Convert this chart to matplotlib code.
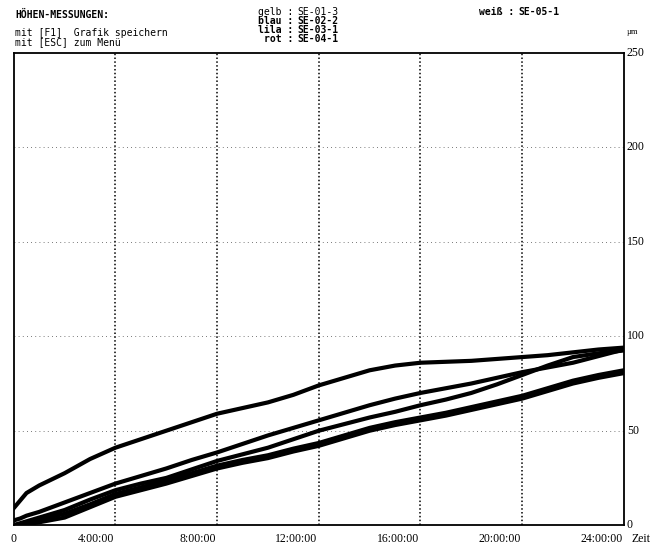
import matplotlib.pyplot as plt

# Stunden seit Messbeginn
hours = [0, 0.25, 0.5, 1, 2, 3, 4, 5, 6, 7, 8, 9, 10, 11, 12, 13, 14, 15, 16,
         17, 18, 19, 20, 21, 22, 23, 24]

# Höhe in µm
curve_a = [9, 13, 17, 21, 27.5, 35, 41, 45.5, 50, 54.5, 59, 62, 65, 69, 74,
           78, 82, 84.5, 86, 86.5, 87, 88, 89, 90, 91.5, 93, 94]
curve_b = [2.5, 3.5, 5, 7, 12, 17, 22, 26, 30, 34.5, 38.5, 43, 47.5, 51.5,
           55.5, 59.5, 63.5, 67, 70, 72.5, 75, 78, 81, 83.5, 86, 89.5, 93]
curve_c = [0, 1, 2, 4, 8, 13.5, 18.5, 22, 25, 29.5, 34, 37.5, 41, 45.5, 50,
           53.5, 57, 60, 63.5, 66.5, 70, 74.5, 79.5, 84.5, 89, 91, 92.5]
curve_d = [0, 0, 0.5, 1.5, 4, 9.5, 15, 18.5, 22, 26, 30, 33, 35.5, 39, 42,
           46, 50, 53, 55.5, 58, 61, 64, 67, 71, 75, 78, 80.5]
curve_e = [0, 0.5, 1.5, 3, 6, 11, 16.5, 20, 23.5, 27.5, 31.5, 34.5, 37, 40.5,
           43.5, 47.5, 51.5, 54.5, 57, 59.5, 62.5, 65.5, 68.5, 72.5, 76.5,
           79.5, 82]

series = [curve_a, curve_b, curve_c, curve_d, curve_e]

x_ticks = [0, 4, 8, 12, 16, 20, 24]
x_labels = ["0", "4:00:00", "8:00:00", "12:00:00", "16:00:00", "20:00:00", "24:00:00"]
y_ticks = [0, 50, 100, 150, 200, 250]

legend_names = ["gelb", "blau", "lila", "rot"]
legend_ids = ["SE-01-3", "SE-02-2", "SE-03-1", "SE-04-1"]

fig = plt.figure(figsize=(6.56, 5.47), dpi=100)
ax = fig.add_axes([0.021, 0.040, 0.930, 0.863])

for vals in series:
    ax.plot(hours, vals, color="black", lw=3.0, solid_joinstyle="round")

ax.set_xlim(0, 24)
ax.set_ylim(0, 250)

# Gitter: senkrecht dicht gepunktet, waagerecht locker
for t in x_ticks[1:-1]:
    ax.axvline(t, color="black", lw=1.1, ls=(0, (1, 1.5)))
for v in y_ticks[1:-1]:
    ax.axhline(v, color="black", lw=0.6, ls=(0, (1, 4)), alpha=0.7)

ax.set_xticks([])
ax.set_yticks([])
for s in ax.spines.values():
    s.set_linewidth(1.3)

serif = "Liberation Serif"
for t, lab in zip(x_ticks, x_labels):
    if t == 0:
        ax.text(t, -4, lab, ha="center", va="top", fontsize=8.5, family=serif)
    else:
        ax.text(t - 0.05, -4, lab, ha="right", va="top", fontsize=8.5, family=serif)
ax.text(24.3, -4, "Zeit", ha="left", va="top", fontsize=8.5, family=serif, clip_on=False)

for v in y_ticks:
    ax.text(24.12, v, str(v), ha="left", va="center", fontsize=8.5, family=serif)
ax.text(24.12, 259, "µm", ha="left", va="bottom", fontsize=6, family=serif)

# Kopfzeile im DOS-Stil
mono = "DejaVu Sans Mono"
fig.text(15 / 656, 1 - 15 / 547, "HÖHEN-MESSUNGEN:", fontsize=7, family=mono,
         weight="bold", va="center")
fig.text(15 / 656, 1 - 33 / 547, "mit [F1]  Grafik speichern", fontsize=7,
         family=mono, va="center")
fig.text(15 / 656, 1 - 42 / 547, "mit [ESC] zum Menü", fontsize=7,
         family=mono, va="center")

for i, (name, sid) in enumerate(zip(legend_names, legend_ids)):
    y = 1 - (12 + 9 * i) / 547
    w = "normal" if i == 0 else "bold"
    fig.text(293 / 656, y, name + " :", fontsize=7, family=mono, weight=w,
             ha="right", va="center")
    fig.text(297 / 656, y, sid, fontsize=7, family=mono, weight=w,
             ha="left", va="center")

fig.text(514 / 656, 1 - 12 / 547, "weiß :", fontsize=7, family=mono,
         weight="bold", ha="right", va="center")
fig.text(518 / 656, 1 - 12 / 547, "SE-05-1", fontsize=7, family=mono,
         weight="bold", ha="left", va="center")

fig.savefig("out.png", dpi=100)
